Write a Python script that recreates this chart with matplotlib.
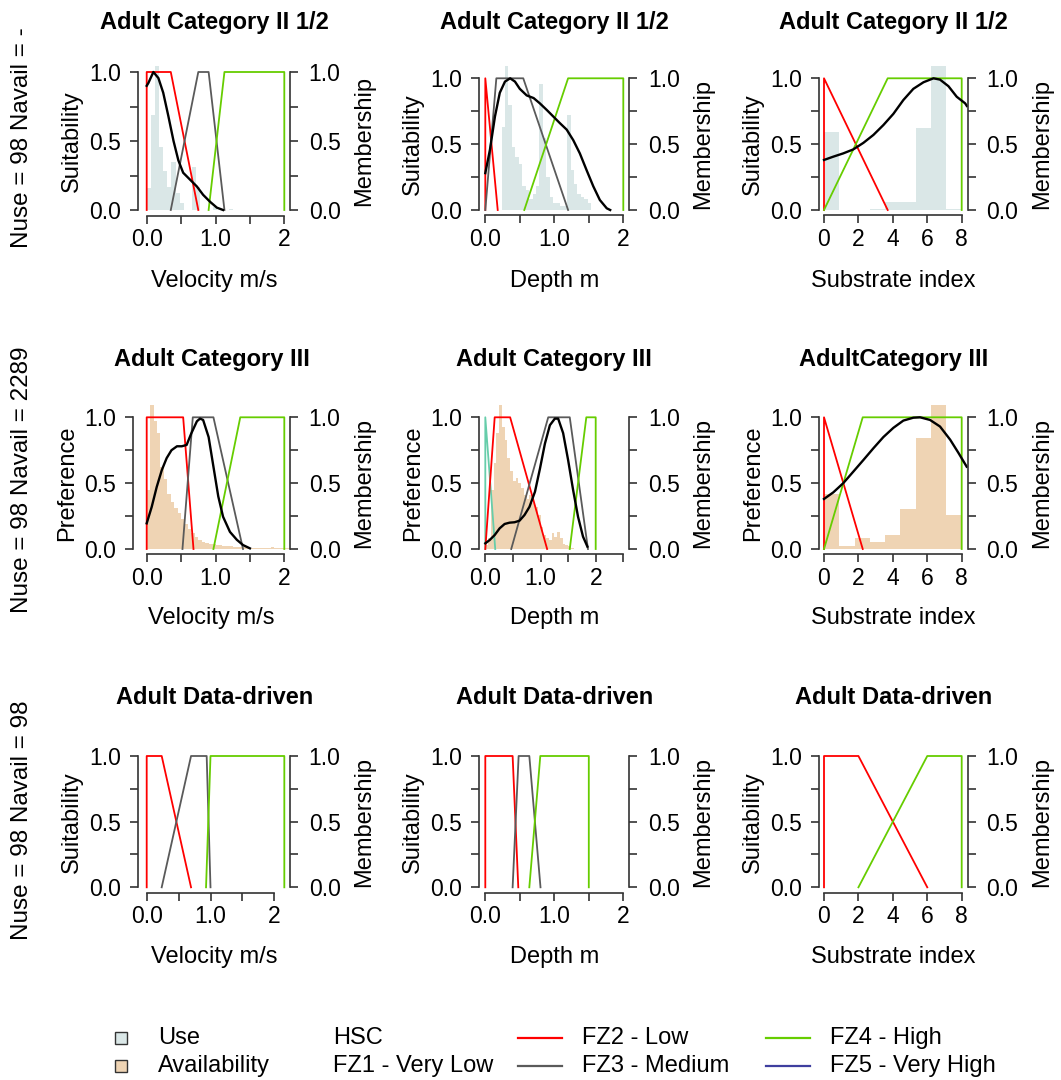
import numpy as np
import matplotlib
matplotlib.use("Agg")
import matplotlib.pyplot as plt
from matplotlib.lines import Line2D
from matplotlib.patches import Rectangle

W, H = 1061, 1080
plt.rcParams['font.family'] = ['Liberation Sans', 'DejaVu Sans']

# ---------------- colours ----------------
USE_C = '#dae7e7'
AVAIL_C = '#efd4b4'
FZ1_C = '#66cdaa'
FZ2_C = '#ff0000'
FZ3_C = '#5a5a5a'
FZ4_C = '#66cd00'
FZ5_C = '#3f3f9f'

# ---------------- data: row 1 (Adult Category II 1/2) ----------------
vel1_use_left = [0.00, 0.06, 0.12, 0.18, 0.24, 0.30, 0.36, 0.42, 0.48, 0.54, 0.60, 0.66, 0.72, 0.78, 0.84, 0.90, 0.96, 1.02, 1.08, 1.14, 1.20]
vel1_use_vals = [0.16, 0.69, 1.04, 0.46, 0.28, 0.17, 0.35, 0.12, 0.05, 0.00, 0.00, 0.31, 0.17, 0.00, 0.00, 0.00, 0.02, 0.00, 0.00, 0.00, 0.01]
vel1_hsc_x = [0.0, 0.024, 0.097, 0.17, 0.24, 0.315, 0.39, 0.46, 0.53, 0.63, 0.73, 0.82, 0.92, 1.02, 1.11]
vel1_hsc_y = [0.90, 0.92, 1.0, 0.956, 0.85, 0.68, 0.50, 0.36, 0.27, 0.22, 0.17, 0.11, 0.06, 0.017, 0.0]
vel1_fz2 = ([0, 0, 0.35, 0.75], [0, 1, 1, 0])
vel1_fz3 = ([0.35, 0.75, 0.90, 1.13], [0, 1, 1, 0])
vel1_fz4 = ([0.90, 1.13, 2.0, 2.0], [0, 1, 1, 0])

dep1_use_left = [0.235, 0.285, 0.335, 0.385, 0.435, 0.485, 0.535, 0.585, 0.635, 0.685, 0.735, 0.785, 0.835, 0.885, 0.935, 0.985, 1.035, 1.085, 1.135, 1.185, 1.235, 1.285, 1.335, 1.385, 1.435, 1.485]
dep1_use_vals = [0.63, 1.09, 0.80, 0.48, 0.40, 0.35, 0.18, 0.15, 0.08, 0.12, 0.18, 0.96, 0.55, 0.25, 0.10, 0.05, 0.05, 0.03, 0.03, 0.72, 0.30, 0.20, 0.12, 0.10, 0.08, 0.05]
dep1_hsc_x = [0.0, 0.068, 0.14, 0.21, 0.285, 0.36, 0.43, 0.50, 0.60, 0.70, 0.79, 0.89, 0.985, 1.08, 1.18, 1.275, 1.37, 1.47, 1.565, 1.66, 1.76, 1.81]
dep1_hsc_y = [0.28, 0.46, 0.71, 0.89, 0.975, 1.0, 0.975, 0.92, 0.87, 0.85, 0.81, 0.76, 0.71, 0.66, 0.61, 0.53, 0.43, 0.30, 0.18, 0.076, 0.013, 0.0]
dep1_fz2 = ([0, 0, 0.18], [0, 1, 0])
dep1_fz3 = ([0, 0.16, 0.55, 1.2], [0, 1, 1, 0])
dep1_fz4 = ([0.565, 1.2, 2.0, 2.0], [0, 1, 1, 0])

sub_bin_left = [0.0, 0.889, 1.778, 2.667, 3.556, 4.444, 5.333, 6.222, 7.111]
sub1_use_vals = [0.59, 0.0, 0.0, 0.005, 0.06, 0.06, 0.62, 1.09, 0.01]
sub1_hsc_x = [0.0, 0.54, 1.12, 1.7, 2.29, 2.87, 3.45, 4.03, 4.61, 5.19, 5.78, 6.36, 6.74, 7.23, 7.71, 8.2, 8.3]
sub1_hsc_y = [0.38, 0.405, 0.43, 0.46, 0.51, 0.57, 0.645, 0.73, 0.835, 0.92, 0.97, 1.0, 0.99, 0.94, 0.86, 0.81, 0.79]
sub1_fz2 = ([0, 0, 3.7], [0, 1, 0])
sub1_fz4 = ([0, 3.7, 8, 8], [0, 1, 1, 0])

# ---------------- data: row 2 (Adult Category III) ----------------
vel2_av_left = [0.00, 0.05, 0.10, 0.15, 0.20, 0.25, 0.30, 0.35, 0.40, 0.45, 0.50, 0.55, 0.60, 0.65, 0.70, 0.75, 0.80, 0.85, 0.90, 0.95, 1.00, 1.05, 1.10, 1.15, 1.20, 1.25, 1.30, 1.35, 1.40, 1.45, 1.50, 1.55, 1.60, 1.65, 1.70, 1.75, 1.80, 1.85, 1.90, 1.95, 2.00, 2.05]
vel2_av_vals = [0.45, 1.09, 0.97, 0.88, 0.62, 0.53, 0.42, 0.36, 0.31, 0.27, 0.23, 0.19, 0.15, 0.12, 0.09, 0.07, 0.055, 0.045, 0.04, 0.035, 0.03, 0.03, 0.025, 0.02, 0.02, 0.015, 0.015, 0.015, 0.012, 0.012, 0.01, 0.01, 0.01, 0.01, 0.008, 0.008, 0.012, 0.01, 0.008, 0.006, 0.005, 0.005]
vel2_hsc_x = [0.0, 0.073, 0.145, 0.22, 0.29, 0.36, 0.44, 0.51, 0.58, 0.65, 0.73, 0.775, 0.82, 0.90, 0.97, 1.04, 1.11, 1.21, 1.31, 1.40, 1.50]
vel2_hsc_y = [0.195, 0.32, 0.47, 0.60, 0.69, 0.75, 0.78, 0.78, 0.79, 0.88, 0.97, 0.99, 0.98, 0.85, 0.625, 0.40, 0.245, 0.13, 0.07, 0.03, 0.005]
vel2_fz2 = ([0, 0, 0.53, 0.68], [0, 1, 1, 0])
vel2_fz3 = ([0.52, 0.67, 0.97, 1.40], [0, 1, 1, 0])
vel2_fz4 = ([0.97, 1.36, 2.0, 2.0], [0, 1, 1, 0])

dep2_av_left = [0.00, 0.05, 0.10, 0.15, 0.20, 0.25, 0.30, 0.35, 0.40, 0.45, 0.50, 0.55, 0.60, 0.65, 0.70, 0.75, 0.80, 0.85, 0.90, 0.95, 1.00, 1.05, 1.10, 1.15, 1.20, 1.25, 1.30, 1.35, 1.40, 1.45, 1.50, 1.55]
dep2_av_vals = [0.03, 0.08, 0.45, 0.65, 0.88, 1.09, 0.93, 0.83, 0.69, 0.59, 0.52, 0.54, 0.50, 0.46, 0.41, 0.38, 0.41, 0.35, 0.32, 0.26, 0.17, 0.11, 0.08, 0.07, 0.12, 0.09, 0.13, 0.08, 0.04, 0.03, 0.02, 0.01]
dep2_hsc_x = [0.0, 0.079, 0.17, 0.26, 0.35, 0.44, 0.53, 0.62, 0.71, 0.80, 0.90, 0.99, 1.08, 1.17, 1.26, 1.32, 1.41, 1.50, 1.59, 1.68, 1.77, 1.85]
dep2_hsc_y = [0.043, 0.068, 0.106, 0.157, 0.19, 0.20, 0.203, 0.215, 0.258, 0.32, 0.435, 0.61, 0.80, 0.94, 0.99, 0.99, 0.88, 0.676, 0.45, 0.245, 0.094, 0.018]
dep2_fz1 = ([0, 0, 0.18], [0, 1, 0])
dep2_fz2 = ([0, 0.17, 0.45, 1.12], [0, 1, 1, 0])
dep2_fz3 = ([0.47, 1.14, 1.53, 1.86], [0, 1, 1, 0])
dep2_fz4 = ([1.53, 1.83, 2.0, 2.0], [0, 1, 1, 0])

sub2_av_vals = [0.42, 0.02, 0.08, 0.056, 0.11, 0.30, 0.84, 1.09, 0.26]
sub2_hsc_x = [0.0, 0.54, 1.12, 1.7, 2.29, 2.87, 3.45, 4.03, 4.61, 5.19, 5.58, 6.16, 6.74, 7.33, 7.81, 8.29]
sub2_hsc_y = [0.38, 0.43, 0.50, 0.587, 0.676, 0.765, 0.85, 0.92, 0.975, 0.997, 1.0, 0.98, 0.93, 0.83, 0.73, 0.625]
sub2_fz2 = ([0, 0, 2.25], [0, 1, 0])
sub2_fz4 = ([0, 2.25, 8, 8], [0, 1, 1, 0])

# ---------------- data: row 3 (Adult Data-driven) ----------------
vel3_fz2 = ([0, 0, 0.235, 0.695], [0, 1, 1, 0])
vel3_fz3 = ([0.235, 0.695, 0.94, 1.0], [0, 1, 1, 0])
vel3_fz4 = ([0.93, 1.0, 2.157, 2.157], [0, 1, 1, 0])

dep3_fz2 = ([0, 0, 0.396, 0.478], [0, 1, 1, 0])
dep3_fz3 = ([0.396, 0.483, 0.638, 0.80], [0, 1, 1, 0])
dep3_fz4 = ([0.638, 0.797, 1.5, 1.5], [0, 1, 1, 0])

sub3_fz2 = ([0, 0, 2, 6], [0, 1, 1, 0])
sub3_fz4 = ([2, 6, 8, 8], [0, 1, 1, 0])

row_titles = ["Adult Category II 1/2", "Adult Category III", "Adult Data-driven"]
col3_titles = ["Adult Category II 1/2", "AdultCategory III", "Adult Data-driven"]
row_side = ["Nuse = 98 Navail = -", "Nuse = 98 Navail = 2289", "Nuse = 98 Navail = 98"]
row_ylabel = ["Suitability", "Preference", "Suitability"]
col_xlabel = ["Velocity m/s", "Depth m", "Substrate index"]
legend_labels = ["Use", "Availability", "HSC", "FZ1 - Very Low", "FZ2 - Low", "FZ3 - Medium", "FZ4 - High", "FZ5 - Very High"]

fig = plt.figure(figsize=(W / 100, H / 100), dpi=100)

AX_C = '#333333'
TICK_FS = 16.5
LAB_FS = 17
TITLE_FS = 17


def panel(left, right, y1, y0, xa_px, xb_px, xa, xb, xticks, xticklabels,
          title, ylabel, xlabel, title_y, xlabel_y):
    s = (xb_px - xa_px) / (xb - xa)
    xlim = (xa + (left - xa_px) / s, xa + (right - xa_px) / s)
    ys = y0 - y1
    top = y1 - 0.04 * ys
    bot = y0 + 0.04 * ys
    ax = fig.add_axes([left / W, 1 - bot / H, (right - left) / W, (bot - top) / H])
    ax.set_xlim(xlim)
    ax.set_ylim(-0.04, 1.04)
    ax.patch.set_alpha(0)
    for sp in ['top', 'right']:
        ax.spines[sp].set_visible(False)
    ax.spines['left'].set_bounds(0, 1)
    ax.spines['bottom'].set_bounds(xticks[0], xticks[-1])
    for sp in ['left', 'bottom']:
        ax.spines[sp].set_color(AX_C)
        ax.spines[sp].set_linewidth(1.2)
    ax.set_yticks([0, 0.25, 0.5, 0.75, 1.0])
    ax.set_yticklabels(['0.0', '', '0.5', '', '1.0'])
    ax.set_xticks(xticks)
    ax.set_xticklabels(xticklabels)
    ax.tick_params(axis='both', direction='out', length=5.5, width=1.2, color=AX_C,
                   labelsize=TICK_FS, labelcolor='black')
    ax.tick_params(axis='y', pad=7)
    ax.tick_params(axis='x', pad=3.5)
    ax2 = ax.twinx()
    ax2.set_ylim(-0.04, 1.04)
    ax2.patch.set_alpha(0)
    for sp in ['top', 'left', 'bottom']:
        ax2.spines[sp].set_visible(False)
    ax2.spines['right'].set_bounds(0, 1)
    ax2.spines['right'].set_color(AX_C)
    ax2.spines['right'].set_linewidth(1.2)
    ax2.set_yticks([0, 0.25, 0.5, 0.75, 1.0])
    ax2.set_yticklabels(['0.0', '', '0.5', '', '1.0'])
    ax2.tick_params(axis='y', direction='out', length=5.5, width=1.2, color=AX_C,
                    labelsize=TICK_FS, pad=8)
    cx = (left + right) / 2
    cy = (top + bot) / 2
    fig.text(cx / W, 1 - title_y / H, title, ha='center', va='center',
             fontsize=TITLE_FS, fontweight='bold')
    fig.text(cx / W, 1 - xlabel_y / H, xlabel, ha='center', va='center', fontsize=LAB_FS)
    fig.text((left - 66) / W, 1 - cy / H, ylabel, ha='center', va='center',
             rotation=90, fontsize=LAB_FS)
    fig.text((right + 74) / W, 1 - cy / H, "Membership", ha='center', va='center',
             rotation=90, fontsize=LAB_FS)
    return ax


def hist(ax, lefts, vals, width, color):
    ax.bar(lefts, vals, width=width, align='edge', color=color, linewidth=0,
           zorder=1, clip_on=False)


def fz(ax, xy, color, lw=1.3):
    ax.plot(xy[0], xy[1], color=color, lw=lw, zorder=3)


def hsc(ax, x, y):
    ax.plot(x, y, color='black', lw=1.7, zorder=4)


vel_ticks = [0, 0.5, 1.0, 1.5, 2.0]
vel_lab = ['0.0', '', '1.0', '', '2']
sub_ticks = [0, 2, 4, 6, 8]
sub_lab = ['0', '2', '4', '6', '8']

# row 1
ax = panel(138, 290, 72, 210, 146.7, 284.3, 0, 2, vel_ticks, vel_lab,
           row_titles[0], row_ylabel[0], col_xlabel[0], 22, 281)
hist(ax, vel1_use_left, vel1_use_vals, 0.06, USE_C)
fz(ax, vel1_fz2, FZ2_C); fz(ax, vel1_fz3, FZ3_C); fz(ax, vel1_fz4, FZ4_C)
hsc(ax, vel1_hsc_x, vel1_hsc_y)

ax = panel(479, 629.3, 78.3, 210, 485.3, 623.3, 0, 2, vel_ticks, vel_lab,
           row_titles[0], row_ylabel[0], col_xlabel[1], 22, 281)
hist(ax, dep1_use_left, dep1_use_vals, 0.05, USE_C)
fz(ax, dep1_fz2, FZ2_C); fz(ax, dep1_fz3, FZ3_C); fz(ax, dep1_fz4, FZ4_C)
hsc(ax, dep1_hsc_x, dep1_hsc_y)

ax = panel(819, 967.7, 78.3, 210, 824, 961.7, 0, 8, sub_ticks, sub_lab,
           col3_titles[0], row_ylabel[0], col_xlabel[2], 22, 281)
hist(ax, sub_bin_left, sub1_use_vals, 0.889, USE_C)
fz(ax, sub1_fz2, FZ2_C); fz(ax, sub1_fz4, FZ4_C)
hsc(ax, sub1_hsc_x, sub1_hsc_y)

# row 2
ax = panel(133.3, 290, 417.3, 549, 146.7, 284.3, 0, 2, vel_ticks, vel_lab,
           row_titles[1], row_ylabel[1], col_xlabel[0], 360, 618)
hist(ax, vel2_av_left, vel2_av_vals, 0.05, AVAIL_C)
fz(ax, vel2_fz2, FZ2_C); fz(ax, vel2_fz3, FZ3_C); fz(ax, vel2_fz4, FZ4_C)
hsc(ax, vel2_hsc_x, vel2_hsc_y)

ax = panel(479, 629.3, 417.3, 549, 485.3, 623.3, 0, 2.5, [0, 0.5, 1.0, 1.5, 2.0, 2.5],
           ['0.0', '', '1.0', '', '2', ''],
           row_titles[1], row_ylabel[1], col_xlabel[1], 360, 618)
hist(ax, dep2_av_left, dep2_av_vals, 0.05, AVAIL_C)
fz(ax, dep2_fz1, FZ1_C); fz(ax, dep2_fz2, FZ2_C); fz(ax, dep2_fz3, FZ3_C); fz(ax, dep2_fz4, FZ4_C)
hsc(ax, dep2_hsc_x, dep2_hsc_y)

ax = panel(819, 967.7, 417.3, 549, 824, 961.7, 0, 8, sub_ticks, sub_lab,
           col3_titles[1], row_ylabel[1], col_xlabel[2], 360, 618)
hist(ax, sub_bin_left, sub2_av_vals, 0.889, AVAIL_C)
fz(ax, sub2_fz2, FZ2_C); fz(ax, sub2_fz4, FZ4_C)
hsc(ax, sub2_hsc_x, sub2_hsc_y)

# row 3
ax = panel(138.3, 290, 756, 887.3, 146.7, 274.3, 0, 2, vel_ticks, vel_lab,
           row_titles[2], row_ylabel[2], col_xlabel[0], 698, 957)
fz(ax, vel3_fz2, FZ2_C); fz(ax, vel3_fz3, FZ3_C); fz(ax, vel3_fz4, FZ4_C)

ax = panel(479, 629.3, 756, 887.3, 485.3, 623.3, 0, 2, vel_ticks, vel_lab,
           row_titles[2], row_ylabel[2], col_xlabel[1], 698, 957)
fz(ax, dep3_fz2, FZ2_C); fz(ax, dep3_fz3, FZ3_C); fz(ax, dep3_fz4, FZ4_C)

ax = panel(819, 967.7, 756, 887.3, 824, 961.7, 0, 8, sub_ticks, sub_lab,
           col3_titles[2], row_ylabel[2], col_xlabel[2], 698, 957)
fz(ax, sub3_fz2, FZ2_C); fz(ax, sub3_fz4, FZ4_C)

# side labels
for txt, yc in zip(row_side, [138, 480, 820]):
    fig.text(22 / W, 1 - yc / H, txt, ha='center', va='center', rotation=90, fontsize=17.5)

# legend (manual, R-style)
LEG_FS = 17
row_y = [1038, 1066]
text_x = [158, 333, 582, 830]
leg_kinds = [('box', USE_C), ('box', AVAIL_C), ('none', None), ('none', None),
             ('line', FZ2_C), ('line', FZ3_C), ('line', FZ4_C), ('line', FZ5_C)]
for i, (lab, (kind, col)) in enumerate(zip(legend_labels, leg_kinds)):
    c, r = divmod(i, 2)
    yy = row_y[r]
    tx = text_x[c]
    fig.text(tx / W, 1 - yy / H, lab, ha='left', va='center', fontsize=LEG_FS)
    if kind == 'box':
        fig.add_artist(Rectangle(((121 - 6) / W, 1 - (yy + 6) / H), 12 / W, 12 / H,
                                 transform=fig.transFigure, facecolor=col,
                                 edgecolor='#333333', linewidth=1))
    elif kind == 'line':
        fig.add_artist(Line2D([(tx - 64) / W, (tx - 20) / W], [1 - yy / H, 1 - yy / H],
                              transform=fig.transFigure, color=col, lw=1.6))

fig.savefig('out.png', dpi=100)
